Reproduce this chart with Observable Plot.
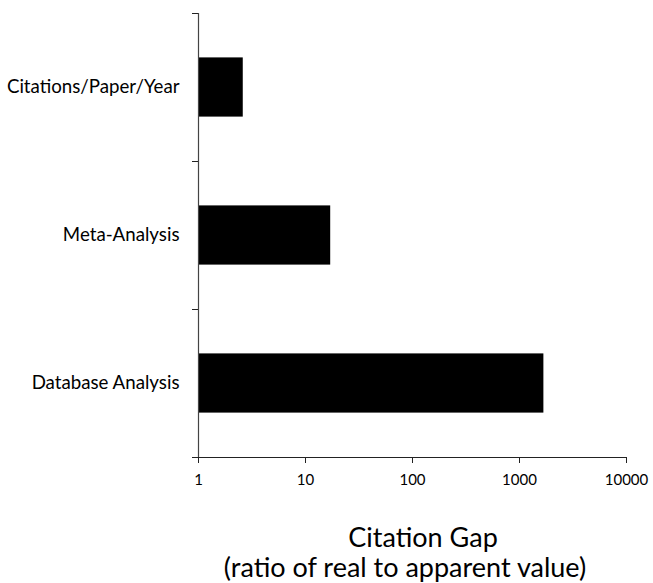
<!DOCTYPE html>
<html><head><meta charset="utf-8">
<script src="https://cdn.jsdelivr.net/npm/d3@7"></script>
<script src="https://cdn.jsdelivr.net/npm/@observablehq/plot@0.6"></script>
<style>
body{margin:0;background:#fff;font-family:Lato,sans-serif;}
#wrap{position:relative;width:653px;height:583px;}
.t{position:absolute;transform:translateX(-50%);font-size:27px;line-height:32px;color:#000;white-space:nowrap;}
</style>
</head><body><div id="wrap"></div>
<script>
const categories = ["Citations/Paper/Year", "Meta-Analysis", "Database Analysis"];
const values = [2.62, 17.2, 1690];
const xTicks = [1, 10, 100, 1000, 10000];
const xTitle1 = "Citation Gap";
const xTitle2 = "(ratio of real to apparent value)";

const data = categories.map((c, i) => ({cat: c, i, v: values[i]}));

const chart = Plot.plot({
  width: 653,
  height: 500,
  marginLeft: 198,
  marginRight: 27,
  marginTop: 13,
  marginBottom: 43,
  style: {fontFamily: "Lato, sans-serif", fontSize: "14px", color: "#000", background: "#fff"},
  x: {type: "log", domain: [1, 10000]},
  y: {domain: [0, categories.length], reverse: true},
  marks: [
    Plot.rectX(data, {x1: 1, x2: "v", y1: d => d.i + 0.3, y2: d => d.i + 0.7, fill: "#000"}),
    Plot.ruleX([1], {stroke: "#444", strokeWidth: 1.2}),
    Plot.ruleY([categories.length], {stroke: "#222", strokeWidth: 1.2, insetLeft: -6}),
    Plot.axisX({ticks: xTicks, tickFormat: d => String(d), tickSize: 6, tickPadding: 11, label: null, stroke: "#222", fontSize: 15}),
    Plot.axisY({ticks: d3.range(categories.length + 1), tickFormat: () => "", tickSize: 6, label: null, stroke: "#222"}),
    Plot.axisY({ticks: categories.map((c, i) => i + 0.5), tickFormat: (d) => categories[Math.floor(d)], tickSize: 0, tickPadding: 19, label: null, fontSize: 18.7})
  ]
});
const wrap = document.getElementById("wrap");
wrap.appendChild(chart);
const t1 = document.createElement("div");
t1.className = "t"; t1.textContent = xTitle1;
t1.style.top = "521px"; t1.style.left = "423px";
const t2 = document.createElement("div");
t2.className = "t"; t2.textContent = xTitle2;
t2.style.top = "551px"; t2.style.left = "405px";
wrap.appendChild(t1); wrap.appendChild(t2);
</script>
</body></html>
